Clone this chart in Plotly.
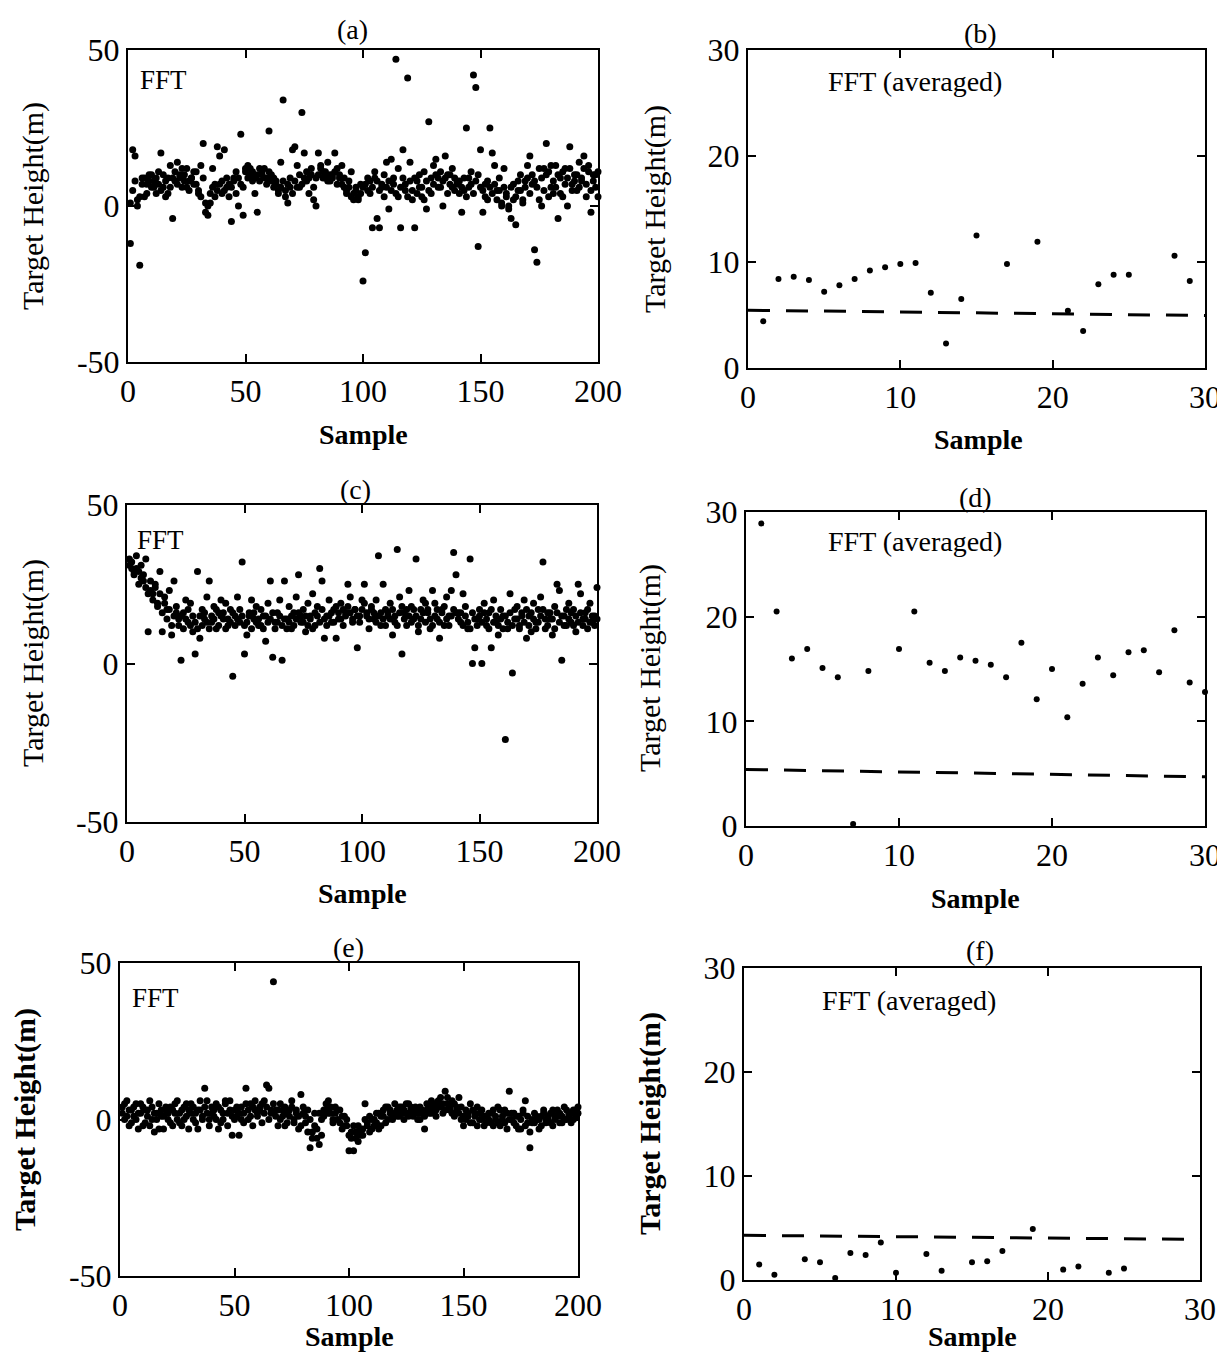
import plotly.graph_objects as go
from plotly.subplots import make_subplots

W, H = 1225, 1364
OFF = 8                      # the page body adds an 8 px margin
FW, FH = W - OFF, H - 2 * OFF
FONT = "Liberation Serif"

# ---------------- data ----------------
# (a) FFT, estimated target height (two estimates per sample)
a_y = [-12, 18, 16, 2, -19, 9, 3, 7, 10, 6,
       8, 4, 11, 17, 6, 3, 9, 13, -4, 8,
       14, 10, 6, 8, 12, 5, 9, 7, 11, 4,
       13, 20, -2, -3, 1, 12, 7, 19, 16, 4,
       18, 6, 3, -5, 9, 11, 0, 23, -3, 12,
       13, 10, 8, 4, -2, 12, 11, 9, 7, 24,
       10, 6, 8, 5, 14, 34, 3, 1, 9, 18,
       19, 13, 6, 30, 17, 8, 4, 12, 2, 0,
       17, 13, 9, 11, 14, 8, 10, 17, 7, 9,
       13, 6, 4, 8, 11, 2, 5, 3, 7, -24,
       -15, 9, 4, -7, 11, -4, -7, 6, 10, 14,
       -1, 15, 7, 47, 3, -7, 18, 5, 41, 14,
       2, -7, 8, 6, 3, 11, -1, 27, 4, 13,
       15, 9, 6, 0, 16, 10, 7, 12, 5, 8,
       4, -2, 9, 25, 6, 11, 42, 38, -13, 18,
       -2, 7, 2, 25, 17, 13, 5, 9, 0, 12,
       3, -1, -4, 7, -6, 5, 10, 2, 8, 13,
       16, 7, -14, -18, 2, 0, 12, 20, 11, 6,
       4, 13, -4, 9, 3, 12, 0, 19, 7, 10,
       5, 14, 8, 16, 3, 11, -2, 10, 6, 11]
a_y2 = [1, 5, 8, 0, 3, 7, 9, 4, 8, 10,
        6, 9, 7, 5, 10, 8, 4, 6, 9, 11,
        7, 9, 12, 10, 6, 8, 9, 11, 7, 5,
        3, 9, 1, 0, 4, 6, 3, 5, 7, 8,
        5, 9, 7, 6, 8, 4, 9, 7, 6, 11,
        9, 12, 11, 9, 10, 8, 10, 12, 9, 11,
        8, 9, 7, 4, 6, 8, 5, 7, 6, 4,
        8, 6, 10, 7, 9, 11, 9, 10, 6, 9,
        10, 12, 11, 9, 8, 10, 9, 11, 12, 10,
        7, 9, 5, 6, 3, 4, 6, 2, 4, 6,
        7, 5, 8, 6, 9, 8, 5, 7, 3, 6,
        8, 5, 9, 4, 12, 6, 9, 7, 3, 8,
        5, 9, 4, 10, 6, 2, 8, 5, 9, 7,
        10, 6, 11, 8, 9, 4, 10, 6, 9, 7,
        8, 6, 5, 3, 9, 7, 4, 8, 10, 6,
        5, 3, 8, 6, 4, 7, 2, 5, 1, 6,
        4, 0, 6, 2, 3, 8, 5, 1, 6, 9,
        4, 10, 8, 6, 12, 9, 5, 10, 3, 13,
        8, 6, 10, 4, 11, 7, 9, 12, 5, 8,
        10, 6, 9, 12, 7, 13, 5, 8, 10, 3]

# (c) FFT
c_y = [33, 30, 29, 34, 25, 31, 28, 33, 10, 26,
       22, 25, 19, 29, 10, 21, 17, 23, 9, 26,
       18, 14, 1, 16, 20, 13, 19, 10, 3, 29,
       8, 17, 14, 21, 26, 13, 18, 11, 16, 20,
       14, 19, 12, 17, -4, 15, 21, 13, 32, 3,
       9, 16, 20, 14, 18, 12, 17, 15, 7, 19,
       26, 2, 13, 16, 20, 1, 26, 14, 18, 11,
       16, 21, 28, 13, 17, 10, 19, 15, 22, 12,
       18, 30, 26, 8, 15, 20, 13, 17, 8, 14,
       19, 12, 16, 25, 21, 13, 17, 5, 15, 20,
       25, 16, 11, 18, 14, 20, 34, 12, 25, 17,
       15, 19, 9, 13, 36, 21, 3, 16, 12, 23,
       18, 14, 33, 10, 17, 20, 13, 16, 11, 23,
       19, 14, 8, 17, 12, 21, 15, 23, 35, 28,
       16, 13, 22, 18, 11, 33, 0, 5, 14, 17,
       0, 19, 12, 16, 5, 20, 13, 9, 17, 15,
       -24, 11, 22, -3, 14, 18, 12, 16, 20, 8,
       15, 10, 19, 13, 17, 21, 32, 11, 16, 14,
       9, 18, 25, 23, 1, 15, 12, 19, 13, 17,
       10, 25, 22, 14, 16, 11, 19, 13, 15, 24]
c_y2 = [31, 32, 28, 30, 29, 27, 26, 24, 22, 23,
        20, 24, 18, 22, 16, 19, 14, 17, 12, 15,
        16, 12, 15, 11, 14, 17, 12, 15, 13, 11,
        15, 12, 16, 13, 11, 15, 14, 17, 12, 15,
        16, 11, 14, 13, 16, 12, 14, 17, 15, 12,
        13, 15, 11, 16, 13, 14, 12, 11, 15, 13,
        14, 16, 11, 13, 15, 12, 14, 11, 13, 15,
        12, 14, 16, 15, 13, 15, 12, 14, 11, 16,
        15, 13, 17, 14, 12, 15, 16, 13, 18, 16,
        14, 17, 15, 18, 16, 14, 17, 15, 13, 17,
        19, 15, 14, 17, 16, 13, 15, 16, 14, 12,
        16, 14, 17, 15, 12, 16, 18, 14, 17, 15,
        13, 17, 15, 12, 14, 16, 19, 17, 14, 12,
        15, 17, 13, 16, 18, 14, 12, 15, 17, 16,
        14, 16, 12, 15, 13, 11, 16, 14, 12, 15,
        13, 16, 14, 11, 17, 13, 15, 12, 14, 11,
        15, 13, 16, 12, 17, 14, 11, 15, 13, 17,
        12, 16, 14, 11, 13, 15, 17, 14, 12, 16,
        14, 11, 16, 13, 15, 12, 17, 14, 16, 12,
        15, 13, 16, 12, 14, 17, 13, 15, 12, 14]

# (e) FFT
e_y = [4, 0, 6, -2, 3, 1, 5, -3, 2, 4,
       -1, 3, 6, 0, -4, 2, 5, 1, -3, 3,
       0, 4, -2, 2, 6, -1, 3, 0, 5, -3,
       2, 4, -1, 3, 6, 0, 10, 2, -2, 4,
       1, 5, -3, 3, 0, 6, 2, 6, -5, 3,
       1, -5, 4, 2, 10, 0, 5, -2, 3, 1,
       4, -1, 6, 11, 10, 2, 44, 3, -2, 5,
       1, 4, -1, 3, 6, 0, 2, -3, 8, 4,
       1, 3, -9, -4, 2, -6, -8, 0, 3, 5,
       6, 2, -1, 4, 0, 3, -3, 1, -2, -10,
       -4, -10, -6, -2, -5, -3, 5, -1, -4, 0,
       -2, 2, -3, 1, 3, -1, 4, 2, 0, 5,
       3, 1, 4, 0, 2, 5, 3, 1, 4, 2,
       0, 3, -3, 5, 2, 6, 3, 1, 4, 7,
       2, 9, 5, 3, 6, 1, 4, 7, 0, -2,
       3, 1, 5, -1, 2, 4, 0, 3, -2, 1,
       2, -1, 3, 0, 4, -2, 1, 3, -3, 9,
       0, 2, -2, 1, -3, 3, 6, -1, -9, -1,
       2, 0, -3, 1, 3, -1, 0, 2, -2, 1,
       3, -1, 1, 4, 0, 2, -1, 3, 1, 4]
e_y2 = [2, 5, 1, 3, -1, 4, 0, 2, 5, -2,
        3, 1, -2, 4, 2, 0, -3, 3, 1, 4,
        2, -1, 3, 5, 0, 2, -2, 4, 1, 3,
        5, 0, 2, -3, 3, 1, 4, 6, 0, 2,
        3, 0, 4, -1, 2, 5, -2, 3, 1, 0,
        4, 2, 0, -1, 5, 3, 1, 4, 6, 2,
        3, 5, 2, 4, 0, 3, 5, 1, 3, 0,
        3, -2, 2, 1, 4, -1, 3, 1, -2, 2,
        -1, -4, 0, -6, -2, -3, 2, -5, 1, 3,
        2, 4, 0, 2, 3, -1, 1, -2, 0, -5,
        -6, -2, -4, -7, -3, -5, 0, -2, 1, -3,
        0, -1, 2, -2, 1, 4, 0, 3, 1, 2,
        1, 4, 2, 3, 5, 1, 4, 2, 3, 0,
        4, 2, 1, 3, 4, 2, 5, 3, 6, 4,
        5, 3, 7, 4, 2, 5, 3, 2, 4, 1,
        0, 2, -1, 3, 1, -2, 2, 0, 1, -1,
        0, 2, -2, 1, -1, 3, 0, -1, 2, 0,
        2, -1, 1, -3, 0, 2, -2, 1, -4, 0,
        -1, 1, 0, -2, 2, 0, 1, -1, 3, 0,
        1, 2, -1, 0, 3, 1, 2, 0, 3, 2]

# (b) FFT averaged
b_x = [1, 2, 3, 4, 5, 6, 7, 8, 9, 10, 11, 12, 13, 14, 15, 17, 19, 21, 22, 23, 24, 25, 28, 29]
b_y = [4.4, 8.4, 8.6, 8.3, 7.2, 7.8, 8.4, 9.2, 9.5, 9.8, 9.9, 7.1, 2.3, 6.5, 12.5,
       9.8, 11.9, 5.4, 3.5, 7.9, 8.8, 8.8, 10.6, 8.2]
b_thr_x = [0, 30]
b_thr_y = [5.45, 4.95]

# (d) FFT averaged
d_x = [1, 2, 3, 4, 5, 6, 7, 8, 10, 11, 12, 13, 14, 15, 16, 17, 18, 19, 20,
       21, 22, 23, 24, 25, 26, 27, 28, 29, 30]
d_y = [28.9, 20.5, 16.0, 16.9, 15.1, 14.2, 0.2, 14.8, 16.9, 20.5, 15.6, 14.8, 16.1,
       15.8, 15.4, 14.2, 17.5, 12.1, 15.0, 10.4, 13.6, 16.1, 14.4, 16.6, 16.8, 14.7,
       18.7, 13.7, 12.8]
d_thr_x = [0, 30]
d_thr_y = [5.4, 4.7]

# (f) FFT averaged
f_x = [1, 2, 4, 5, 6, 7, 8, 9, 10, 12, 13, 15, 16, 17, 19, 21, 22, 24, 25]
f_y = [1.5, 0.5, 2.0, 1.7, 0.2, 2.6, 2.4, 3.6, 0.7, 2.5, 0.9, 1.7, 1.8, 2.8, 4.9,
       1.0, 1.3, 0.7, 1.1]
f_thr_x = [0, 30]
f_thr_y = [4.3, 3.9]

fft_ticks = [0, 50, 100, 150, 200]
fft_yticks = [-50, 0, 50]
fft_yticktext = ["-50", "0", "50"]
avg_ticks = [0, 10, 20, 30]
avg_yticks = [0, 10, 20, 30]

panel_labels = ["(a)", "(b)", "(c)", "(d)", "(e)", "(f)"]

# ---------------- figure ----------------
fig = make_subplots(rows=3, cols=2)

def px_x(px):
    return (px - OFF) / FW

def px_y(py):
    return 1 - (py - OFF) / FH

# pixel boxes of the six plot areas: (left, right, top, bottom)
boxes = [(128, 598, 50, 362), (748, 1205, 50, 368),
         (127, 597, 505, 822), (746, 1205, 512, 826),
         (120, 578, 963, 1276), (744, 1200, 968, 1280)]

fft_sets = [(a_y, a_y2), (c_y, c_y2), (e_y, e_y2)]
avg_sets = [(b_x, b_y, b_thr_x, b_thr_y), (d_x, d_y, d_thr_x, d_thr_y), (f_x, f_y, f_thr_x, f_thr_y)]

for r in range(3):
    ys1, ys2 = fft_sets[r]
    for ys in (ys1, ys2):
        fig.add_trace(go.Scatter(x=list(range(1, len(ys) + 1)), y=ys, mode="markers",
                                 marker=dict(color="black", size=7),
                                 cliponaxis=False, showlegend=False), row=r + 1, col=1)
    bx, by, tx, ty = avg_sets[r]
    fig.add_trace(go.Scatter(x=tx, y=ty, mode="lines",
                             line=dict(color="black", width=3, dash="22px,16px"),
                             showlegend=False), row=r + 1, col=2)
    fig.add_trace(go.Scatter(x=bx, y=by, mode="markers",
                             marker=dict(color="black", size=6),
                             cliponaxis=False, showlegend=False), row=r + 1, col=2)

axis_common = dict(showline=True, linecolor="black", linewidth=2, mirror="ticks",
                   ticks="inside", ticklen=8, tickwidth=1.5, tickcolor="black",
                   showgrid=False, zeroline=False, automargin=False,
                   ticklabeloverflow="allow",
                   tickfont=dict(family=FONT, size=32, color="black"))

for i in range(6):
    idx = "" if i == 0 else str(i + 1)
    l, rgt, t, b = boxes[i]
    xd = [px_x(l), px_x(rgt)]
    yd = [px_y(b), px_y(t)]
    if i % 2 == 0:
        fig.layout["xaxis" + idx].update(domain=xd, range=[0, 200], tickvals=fft_ticks,
                                         ticktext=[str(v) for v in fft_ticks], **axis_common)
        fig.layout["yaxis" + idx].update(domain=yd, range=[-50, 50], tickvals=fft_yticks,
                                         ticktext=fft_yticktext, **axis_common)
    else:
        fig.layout["xaxis" + idx].update(domain=xd, range=[0, 30], tickvals=avg_ticks,
                                         ticktext=[str(v) for v in avg_ticks], **axis_common)
        fig.layout["yaxis" + idx].update(domain=yd, range=[0, 30], tickvals=avg_yticks,
                                         ticktext=[str(v) for v in avg_yticks], **axis_common)

def ann(text, px, py, size, bold=False, angle=0, xanchor="center"):
    if bold:
        text = "<b>" + text + "</b>"
    fig.add_annotation(text=text, x=px_x(px), y=px_y(py), xref="paper", yref="paper",
                       showarrow=False, textangle=angle, xanchor=xanchor, yanchor="middle",
                       font=dict(family=FONT, size=size, color="black"))

# panel titles
title_pos = [(352, 30), (980, 33), (355, 490), (975, 497), (348, 947), (980, 950)]
for lab, (px, py) in zip(panel_labels, title_pos):
    ann(lab, px, py, 28)

# y axis titles
ytitle_pos = [(33, 206, False), (655, 209, False), (33, 663, False), (650, 668, False),
              (25, 1120, True), (650, 1124, True)]
for px, py, bd in ytitle_pos:
    ann("Target Height(m)", px, py, 30, bold=bd, angle=-90)

# x axis titles
xtitle_pos = [(363, 435), (978, 440), (362, 893), (975, 898), (349, 1336), (972, 1336)]
for px, py in xtitle_pos:
    ann("Sample", px, py, 28, bold=True)

# inner labels
ann("FFT", 138, 80, 27, xanchor="left")
ann("FFT", 135, 540, 27, xanchor="left")
ann("FFT", 130, 998, 27, xanchor="left")
ann("FFT (averaged)", 826, 82, 28, xanchor="left")
ann("FFT (averaged)", 826, 541, 28, xanchor="left")
ann("FFT (averaged)", 820, 1000, 28, xanchor="left")

fig.update_layout(width=FW, height=FH, margin=dict(l=0, r=0, t=0, b=0),
                  paper_bgcolor="white", plot_bgcolor="white", showlegend=False)

fig.write_html("out.html")
